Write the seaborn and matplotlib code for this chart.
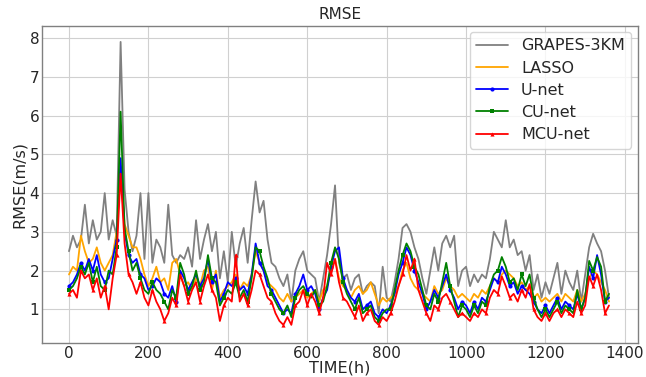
import numpy as np
import pandas as pd
import matplotlib
matplotlib.use("Agg")
import matplotlib.pyplot as plt
import seaborn as sns

time_h = list(range(0, 1370, 10))

grapes = [2.5, 2.9, 2.6, 2.8, 3.7, 2.7, 3.3, 2.8, 3.0, 4.0,
          2.8, 3.3, 2.9, 7.9, 4.1, 3.0, 2.5, 2.9, 4.0, 2.3,
          4.0, 2.2, 2.8, 2.6, 2.2, 3.7, 2.4, 2.2, 2.4, 2.3,
          2.6, 2.1, 3.3, 2.3, 2.8, 3.2, 2.5, 3.0, 1.8, 2.5,
          1.7, 3.0, 2.1, 2.7, 3.1, 2.2, 3.3, 4.3, 3.5, 3.8,
          2.8, 2.2, 2.1, 1.8, 1.6, 1.9, 1.2, 2.0, 2.3, 2.5,
          2.0, 1.9, 1.8, 1.2, 1.8, 2.4, 3.2, 4.2, 2.2, 1.8,
          1.9, 1.5, 1.8, 1.9, 1.4, 1.6, 1.7, 1.6, 0.9, 2.1,
          1.3, 1.2, 1.7, 2.3, 3.1, 3.2, 3.0, 2.6, 2.3, 1.8,
          1.4, 2.0, 2.6, 2.0, 2.7, 2.9, 2.6, 2.9, 1.6, 2.0,
          2.1, 1.6, 1.9, 1.7, 1.9, 1.8, 2.3, 3.0, 2.8, 2.6,
          3.3, 2.6, 2.8, 2.4, 2.5, 2.0, 2.4, 1.5, 1.9, 1.3,
          1.7, 1.4, 1.8, 2.2, 1.4, 2.0, 1.7, 1.5, 2.0, 1.2,
          1.9, 2.6, 2.95, 2.7, 2.5, 2.0, 1.3]

lasso = [1.9, 2.1, 2.0, 2.9, 2.5, 2.2, 2.3, 2.6, 2.2, 2.0,
         2.2, 2.4, 3.0, 4.5, 3.2, 2.9, 2.6, 2.6, 2.3, 1.9,
         1.6, 1.8, 2.1, 1.7, 1.8, 1.5, 2.2, 2.3, 1.9, 1.6,
         1.7, 1.5, 1.8, 1.6, 2.0, 2.1, 1.5, 2.0, 1.3, 1.5,
         1.6, 1.7, 1.9, 1.5, 1.7, 1.6, 1.9, 2.5, 2.2, 2.0,
         1.7, 1.6, 1.5, 1.3, 1.2, 1.4, 1.2, 1.3, 1.4, 1.5,
         1.3, 1.4, 1.5, 1.2, 1.5, 1.6, 2.0, 2.3, 1.8, 1.6,
         1.5, 1.3, 1.5, 1.6, 1.4, 1.5, 1.7, 1.4, 1.1, 1.3,
         1.2, 1.3, 1.4, 1.6, 2.0, 2.2, 1.8, 1.6, 1.5, 1.4,
         1.3, 1.2, 1.6, 1.4, 1.5, 1.8, 1.6, 1.5, 1.3, 1.4,
         1.3, 1.2, 1.4, 1.3, 1.5, 1.4, 1.6, 1.8, 1.7, 1.9,
         2.0, 1.9, 1.8, 1.6, 1.7, 1.5, 1.6, 1.3, 1.4, 1.2,
         1.3, 1.2, 1.3, 1.4, 1.2, 1.4, 1.3, 1.2, 1.5, 1.2,
         1.4, 1.8, 2.0, 1.9, 1.7, 1.5, 1.2]

unet = [1.6, 1.7, 1.9, 2.2, 2.0, 2.3, 2.0, 2.4, 1.9, 1.7,
        1.8, 2.3, 2.8, 4.9, 3.0, 2.4, 2.2, 2.3, 1.9, 1.8,
        1.5, 1.6, 1.8, 1.7, 1.4, 1.3, 1.6, 1.2, 2.0, 1.8,
        1.5, 1.7, 1.9, 1.6, 1.8, 2.3, 1.7, 1.9, 1.2, 1.4,
        1.7, 1.6, 1.8, 1.5, 1.6, 1.4, 1.9, 2.7, 2.2, 2.0,
        1.6, 1.5, 1.3, 1.1, 0.9, 1.0, 0.9, 1.4, 1.6, 1.9,
        1.5, 1.6, 1.4, 1.0, 1.3, 1.5, 2.1, 2.5, 2.6, 1.8,
        1.5, 1.3, 1.2, 1.4, 1.0, 1.1, 1.2, 0.9, 0.8, 1.0,
        0.9, 1.1, 1.4, 1.9, 2.2, 2.6, 2.4, 2.0, 1.7, 1.4,
        1.0, 1.2, 1.5, 1.3, 1.6, 1.9, 1.5, 1.3, 1.0, 1.2,
        1.1, 0.9, 1.2, 1.0, 1.3, 1.2, 1.5, 1.8, 1.7, 2.1,
        1.9, 1.6, 1.7, 1.4, 1.6, 1.5, 1.4, 1.2, 1.0, 0.9,
        1.1, 0.9, 1.1, 1.3, 1.0, 1.2, 1.1, 1.0, 1.4, 1.0,
        1.3, 2.1, 1.8, 2.4, 1.9, 1.2, 1.3]

cunet = [1.5, 1.6, 1.8, 2.1, 1.9, 2.2, 1.7, 2.1, 1.6, 1.5,
         2.0, 1.9, 2.6, 6.1, 3.1, 2.5, 2.0, 2.2, 1.8, 1.5,
         1.4, 1.7, 1.5, 1.4, 1.2, 1.0, 1.5, 1.3, 2.2, 1.9,
         1.4, 1.6, 2.0, 1.5, 1.7, 2.4, 1.8, 1.7, 1.1, 1.3,
         1.5, 1.4, 1.7, 1.3, 1.5, 1.2, 1.8, 2.6, 2.5, 2.1,
         1.8, 1.4, 1.2, 1.0, 0.9, 1.1, 0.8, 1.3, 1.5, 1.6,
         1.4, 1.3, 1.5, 1.1, 1.2, 1.6, 2.2, 2.6, 2.3, 1.7,
         1.4, 1.2, 1.0, 1.3, 0.9, 1.0, 1.1, 0.8, 0.7, 0.9,
         1.0, 1.0, 1.5, 2.0, 2.4, 2.7, 2.5, 2.1, 1.9, 1.5,
         1.1, 1.0, 1.4, 1.2, 1.7, 2.2, 1.6, 1.2, 0.8, 1.1,
         1.0, 0.8, 1.1, 0.9, 1.2, 1.1, 1.6, 1.9, 2.0, 2.35,
         2.1, 1.7, 1.8, 1.5, 1.9, 1.6, 1.9, 1.3, 1.0, 0.8,
         1.0, 0.8, 1.0, 1.2, 0.9, 1.1, 1.0, 0.9, 1.5, 1.0,
         1.3, 2.25, 2.0, 2.35, 2.1, 1.2, 1.4]

mcunet = [1.4, 1.5, 1.3, 2.0, 1.8, 1.9, 1.5, 1.8, 1.3, 1.6,
          1.0, 1.8, 2.4, 4.5, 2.7, 1.9, 1.7, 1.4, 1.7, 1.3,
          1.1, 1.5, 1.2, 1.0, 0.7, 0.9, 1.3, 1.1, 1.9, 1.6,
          1.2, 1.5, 1.7, 1.2, 1.6, 1.9, 1.5, 1.3, 0.7, 1.1,
          1.3, 1.2, 2.4, 1.2, 1.4, 1.1, 1.5, 2.0, 1.9, 1.6,
          1.3, 1.2, 0.9, 0.7, 0.6, 0.8, 0.6, 1.1, 1.2, 1.5,
          1.1, 1.4, 1.2, 0.9, 1.3, 2.2, 1.9, 2.3, 1.7, 1.3,
          1.2, 1.0, 0.8, 1.1, 0.7, 0.9, 1.0, 0.7, 0.6, 0.8,
          0.7, 0.9, 1.2, 1.6, 1.9, 2.4, 2.0, 2.3, 1.5, 1.2,
          0.9, 0.7, 1.1, 1.0, 1.3, 1.4, 1.2, 1.0, 0.8, 0.9,
          0.8, 0.7, 0.9, 0.8, 1.0, 0.9, 1.3, 1.5, 1.4, 1.85,
          1.6, 1.3, 1.4, 1.2, 1.5, 1.3, 1.65, 1.0, 0.8, 0.7,
          0.9, 0.7, 0.9, 1.0, 0.8, 1.0, 0.9, 0.8, 1.2, 0.9,
          1.1, 1.85, 1.6, 1.9, 1.5, 0.9, 1.1]

series_names = ["GRAPES-3KM", "LASSO", "U-net", "CU-net", "MCU-net"]
x_ticks = [0, 200, 400, 600, 800, 1000, 1200, 1400]
y_ticks = [1, 2, 3, 4, 5, 6, 7, 8]

df = pd.DataFrame({
    "TIME": time_h,
    "GRAPES-3KM": grapes,
    "LASSO": lasso,
    "U-net": unet,
    "CU-net": cunet,
    "MCU-net": mcunet,
})

sns.set_style("whitegrid", {"grid.color": "#d0d0d0", "axes.edgecolor": "#808080"})
plt.rcParams["font.family"] = ["DejaVu Sans"]

fig = plt.figure(figsize=(6.46, 3.77), dpi=100)
ax = fig.add_axes([0.065, 0.09, 0.922, 0.842])

styles = {
    "GRAPES-3KM": dict(color="grey", marker=None),
    "LASSO": dict(color="orange", marker=None),
    "U-net": dict(color="blue", marker="o"),
    "CU-net": dict(color="green", marker="s"),
    "MCU-net": dict(color="red", marker="^"),
}

for name in series_names:
    st = styles[name]
    kw = dict(linewidth=1.3)
    if st["marker"]:
        kw.update(marker=st["marker"], markersize=3, markevery=3,
                  markeredgewidth=0)
    sns.lineplot(data=df, x="TIME", y=name, ax=ax, color=st["color"],
                 label=name, **kw)

ax.set_xlim(-68, 1432)
ax.set_ylim(0.13, 8.32)
ax.set_xticks(x_ticks)
ax.set_yticks(y_ticks)
ax.tick_params(axis="both", labelsize=11, length=0, pad=2)
ax.set_xlabel("TIME(h)", fontsize=11.5, labelpad=0)
ax.set_ylabel("RMSE(m/s)", fontsize=11.5, labelpad=2)
ax.set_title("RMSE", fontsize=11, pad=5)
for sp in ax.spines.values():
    sp.set_color("#808080")
    sp.set_linewidth(1.0)

leg = ax.legend(loc="upper right", fontsize=11.5, frameon=True,
                borderaxespad=0.4, handlelength=2.0, labelspacing=0.45,
                borderpad=0.4)
leg.get_frame().set_edgecolor("#cccccc")

fig.savefig("out.png", dpi=100)
